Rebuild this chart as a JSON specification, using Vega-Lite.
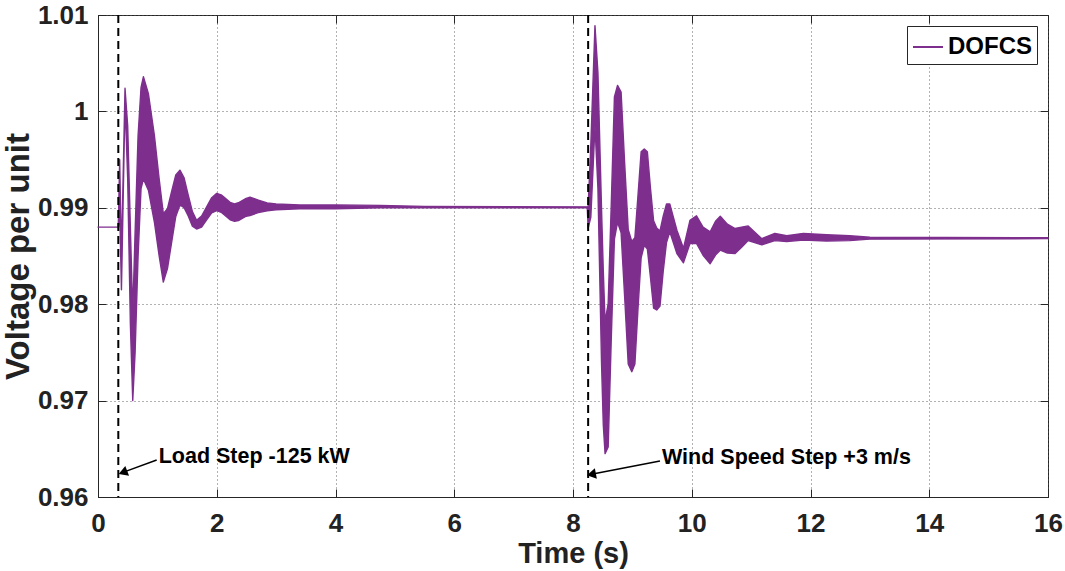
{
  "$schema": "https://vega.github.io/schema/vega-lite/v6.json",
  "width": 950,
  "height": 482,
  "autosize": "none",
  "padding": {"left": 98, "top": 15, "right": 17, "bottom": 74},
  "background": "white",
  "config": {
    "view": {"stroke": "#262626", "strokeWidth": 1},
    "font": "Liberation Sans",
    "axis": {
      "labelFont": "Liberation Sans",
      "labelFontWeight": "bold",
      "labelFontSize": 26,
      "labelColor": "#222222",
      "titleFont": "Liberation Sans",
      "titleFontWeight": "bold",
      "titleColor": "#222222",
      "tickSize": -8,
      "tickColor": "#262626",
      "domainColor": "#262626",
      "gridDash": [1, 3],
      "gridColor": "#555555",
      "gridOpacity": 0.9,
      "gridWidth": 1
    },
    "legend": {
      "orient": "top-right",
      "offset": 11,
      "symbolType": "stroke",
      "symbolSize": 900,
      "symbolStrokeWidth": 2,
      "symbolStrokeColor": "#7E2F8E",
      "labelFont": "Liberation Sans",
      "labelFontSize": 24,
      "labelFontWeight": "bold",
      "labelColor": "black",
      "strokeColor": "#262626",
      "fillColor": "white",
      "padding": 5,
      "labelOffset": 4,
      "cornerRadius": 0
    }
  },
  "datasets": {
    "signal": [
      {"t": 0.0, "lo": 0.988, "hi": 0.988, "series": "DOFCS"},
      {"t": 0.34, "lo": 0.988, "hi": 0.988, "series": "DOFCS"},
      {"t": 0.345, "lo": 0.988, "hi": 0.989, "series": "DOFCS"},
      {"t": 0.365, "lo": 0.990, "hi": 0.995, "series": "DOFCS"},
      {"t": 0.395, "lo": 0.9815, "hi": 0.985, "series": "DOFCS"},
      {"t": 0.455, "lo": 1.001, "hi": 1.0024, "series": "DOFCS"},
      {"t": 0.50, "lo": 0.993, "hi": 0.9985, "series": "DOFCS"},
      {"t": 0.545, "lo": 0.978, "hi": 0.988, "series": "DOFCS"},
      {"t": 0.585, "lo": 0.970, "hi": 0.979, "series": "DOFCS"},
      {"t": 0.625, "lo": 0.975, "hi": 0.9875, "series": "DOFCS"},
      {"t": 0.675, "lo": 0.985, "hi": 0.9975, "series": "DOFCS"},
      {"t": 0.725, "lo": 0.992, "hi": 1.0025, "series": "DOFCS"},
      {"t": 0.765, "lo": 0.993, "hi": 1.0036, "series": "DOFCS"},
      {"t": 0.85, "lo": 0.9918, "hi": 1.0018, "series": "DOFCS"},
      {"t": 0.95, "lo": 0.9885, "hi": 0.9975, "series": "DOFCS"},
      {"t": 1.03, "lo": 0.985, "hi": 0.993, "series": "DOFCS"},
      {"t": 1.10, "lo": 0.9823, "hi": 0.9894, "series": "DOFCS"},
      {"t": 1.17, "lo": 0.9837, "hi": 0.9899, "series": "DOFCS"},
      {"t": 1.24, "lo": 0.9864, "hi": 0.9917, "series": "DOFCS"},
      {"t": 1.31, "lo": 0.9891, "hi": 0.9934, "series": "DOFCS"},
      {"t": 1.38, "lo": 0.9903, "hi": 0.9939, "series": "DOFCS"},
      {"t": 1.45, "lo": 0.99, "hi": 0.9931, "series": "DOFCS"},
      {"t": 1.52, "lo": 0.98915, "hi": 0.9913, "series": "DOFCS"},
      {"t": 1.59, "lo": 0.9881, "hi": 0.9896, "series": "DOFCS"},
      {"t": 1.66, "lo": 0.9878, "hi": 0.9887, "series": "DOFCS"},
      {"t": 1.745, "lo": 0.988, "hi": 0.98915, "series": "DOFCS"},
      {"t": 1.83, "lo": 0.98875, "hi": 0.9901, "series": "DOFCS"},
      {"t": 1.915, "lo": 0.98947, "hi": 0.99105, "series": "DOFCS"},
      {"t": 2.00, "lo": 0.9897, "hi": 0.9915, "series": "DOFCS"},
      {"t": 2.075, "lo": 0.98954, "hi": 0.99134, "series": "DOFCS"},
      {"t": 2.15, "lo": 0.98915, "hi": 0.99095, "series": "DOFCS"},
      {"t": 2.225, "lo": 0.98876, "hi": 0.99056, "series": "DOFCS"},
      {"t": 2.30, "lo": 0.9886, "hi": 0.9904, "series": "DOFCS"},
      {"t": 2.365, "lo": 0.98868, "hi": 0.99052, "series": "DOFCS"},
      {"t": 2.43, "lo": 0.9889, "hi": 0.99075, "series": "DOFCS"},
      {"t": 2.495, "lo": 0.98913, "hi": 0.99097, "series": "DOFCS"},
      {"t": 2.56, "lo": 0.9892, "hi": 0.9911, "series": "DOFCS"},
      {"t": 2.70, "lo": 0.9895, "hi": 0.9908, "series": "DOFCS"},
      {"t": 2.85, "lo": 0.9897, "hi": 0.9905, "series": "DOFCS"},
      {"t": 3.00, "lo": 0.9898, "hi": 0.9904, "series": "DOFCS"},
      {"t": 3.40, "lo": 0.9899, "hi": 0.9903, "series": "DOFCS"},
      {"t": 4.00, "lo": 0.9899, "hi": 0.9903, "series": "DOFCS"},
      {"t": 4.75, "lo": 0.99, "hi": 0.99025, "series": "DOFCS"},
      {"t": 5.50, "lo": 0.99, "hi": 0.99015, "series": "DOFCS"},
      {"t": 8.24, "lo": 0.99, "hi": 0.9901, "series": "DOFCS"},
      {"t": 8.255, "lo": 0.9879, "hi": 0.9901, "series": "DOFCS"},
      {"t": 8.30, "lo": 0.989, "hi": 0.9965, "series": "DOFCS"},
      {"t": 8.37, "lo": 0.9985, "hi": 1.0089, "series": "DOFCS"},
      {"t": 8.42, "lo": 0.992, "hi": 1.004, "series": "DOFCS"},
      {"t": 8.48, "lo": 0.974, "hi": 0.990, "series": "DOFCS"},
      {"t": 8.51, "lo": 0.9675, "hi": 0.9835, "series": "DOFCS"},
      {"t": 8.54, "lo": 0.9645, "hi": 0.9782, "series": "DOFCS"},
      {"t": 8.5925, "lo": 0.9652, "hi": 0.98007, "series": "DOFCS"},
      {"t": 8.645, "lo": 0.9765, "hi": 0.99046, "series": "DOFCS"},
      {"t": 8.6975, "lo": 0.98675, "hi": 1.0015, "series": "DOFCS"},
      {"t": 8.75, "lo": 0.9885, "hi": 1.0027, "series": "DOFCS"},
      {"t": 8.81, "lo": 0.98742, "hi": 1.002, "series": "DOFCS"},
      {"t": 8.87, "lo": 0.98075, "hi": 0.99461, "series": "DOFCS"},
      {"t": 8.93, "lo": 0.9738, "hi": 0.98775, "series": "DOFCS"},
      {"t": 8.99, "lo": 0.973, "hi": 0.9865, "series": "DOFCS"},
      {"t": 9.0425, "lo": 0.9738, "hi": 0.98691, "series": "DOFCS"},
      {"t": 9.095, "lo": 0.97955, "hi": 0.99131, "series": "DOFCS"},
      {"t": 9.1475, "lo": 0.98481, "hi": 0.9958, "series": "DOFCS"},
      {"t": 9.20, "lo": 0.9861, "hi": 0.9961, "series": "DOFCS"},
      {"t": 9.2525, "lo": 0.98573, "hi": 0.9958, "series": "DOFCS"},
      {"t": 9.305, "lo": 0.98275, "hi": 0.99201, "series": "DOFCS"},
      {"t": 9.3575, "lo": 0.9796, "hi": 0.98865, "series": "DOFCS"},
      {"t": 9.41, "lo": 0.9794, "hi": 0.9879, "series": "DOFCS"},
      {"t": 9.465, "lo": 0.9798, "hi": 0.9876, "series": "DOFCS"},
      {"t": 9.52, "lo": 0.98345, "hi": 0.98915, "series": "DOFCS"},
      {"t": 9.575, "lo": 0.9864, "hi": 0.9904, "series": "DOFCS"},
      {"t": 9.63, "lo": 0.9875, "hi": 0.9904, "series": "DOFCS"},
      {"t": 9.75, "lo": 0.98525, "hi": 0.98767, "series": "DOFCS"},
      {"t": 9.86, "lo": 0.9843, "hi": 0.9858, "series": "DOFCS"},
      {"t": 9.97, "lo": 0.98629, "hi": 0.9887, "series": "DOFCS"},
      {"t": 10.08, "lo": 0.9863, "hi": 0.98917, "series": "DOFCS"},
      {"t": 10.19, "lo": 0.98508, "hi": 0.988, "series": "DOFCS"},
      {"t": 10.31, "lo": 0.9842, "hi": 0.9875, "series": "DOFCS"},
      {"t": 10.40, "lo": 0.9851, "hi": 0.9886, "series": "DOFCS"},
      {"t": 10.48, "lo": 0.9856, "hi": 0.98912, "series": "DOFCS"},
      {"t": 10.60, "lo": 0.9853, "hi": 0.9883, "series": "DOFCS"},
      {"t": 10.73, "lo": 0.98525, "hi": 0.98785, "series": "DOFCS"},
      {"t": 10.84, "lo": 0.9859, "hi": 0.988, "series": "DOFCS"},
      {"t": 10.95, "lo": 0.9866, "hi": 0.98812, "series": "DOFCS"},
      {"t": 11.18, "lo": 0.98615, "hi": 0.9868, "series": "DOFCS"},
      {"t": 11.40, "lo": 0.9866, "hi": 0.98735, "series": "DOFCS"},
      {"t": 11.60, "lo": 0.9865, "hi": 0.9871, "series": "DOFCS"},
      {"t": 11.88, "lo": 0.98665, "hi": 0.98735, "series": "DOFCS"},
      {"t": 12.27, "lo": 0.98655, "hi": 0.9872, "series": "DOFCS"},
      {"t": 12.66, "lo": 0.9866, "hi": 0.9871, "series": "DOFCS"},
      {"t": 13.00, "lo": 0.98675, "hi": 0.98695, "series": "DOFCS"},
      {"t": 16.00, "lo": 0.9868, "hi": 0.9869, "series": "DOFCS"}
    ],
    "events": [
      {"t": 0.342},
      {"t": 8.255}
    ],
    "notes": [
      {"id": "load", "label": "Load Step -125 kW", "t0": 0.988, "v0": 0.96383, "t1": 0.42, "v1": 0.96255},
      {"id": "wind", "label": "Wind Speed Step +3 m/s", "t0": 9.465, "v0": 0.96373, "t1": 8.31, "v1": 0.96235}
    ]
  },
  "resolve": {"axis": {"x": "independent", "y": "independent"}},
  "layer": [
    {
      "data": {"name": "signal"},
      "mark": {"type": "area", "stroke": "#7E2F8E", "strokeWidth": 1.4, "strokeJoin": "round"},
      "encoding": {
        "x": {
          "field": "t", "type": "quantitative",
          "scale": {"domain": [0, 16], "nice": false, "zero": false},
          "axis": {
            "orient": "bottom",
            "values": [0, 2, 4, 6, 8, 10, 12, 14, 16],
            "title": "Time (s)",
            "titleFontSize": 29,
            "titlePadding": 3,
            "labelPadding": 21,
            "grid": true,
            "labelFlush": false
          }
        },
        "y": {
          "field": "lo", "type": "quantitative",
          "scale": {"domain": [0.96, 1.01], "nice": false, "zero": false},
          "axis": {
            "orient": "left",
            "values": [0.96, 0.97, 0.98, 0.99, 1.0, 1.01],
            "labelExpr": "format(datum.value, '~g')",
            "title": "Voltage per unit",
            "titleFontSize": 33,
            "titlePadding": 2,
            "labelPadding": 18,
            "grid": true,
            "labelFlush": false
          }
        },
        "y2": {"field": "hi"},
        "color": {
          "field": "series", "type": "nominal",
          "scale": {"domain": ["DOFCS"], "range": ["#7E2F8E"]},
          "legend": {"title": null}
        }
      }
    },
    {
      "data": {"name": "signal"},
      "mark": {"type": "point", "opacity": 0},
      "encoding": {
        "x": {
          "field": "t", "type": "quantitative",
          "axis": {"orient": "top", "values": [0, 2, 4, 6, 8, 10, 12, 14, 16], "labels": false, "title": null, "grid": false, "domain": false}
        },
        "y": {
          "field": "lo", "type": "quantitative",
          "axis": {"orient": "right", "values": [0.96, 0.97, 0.98, 0.99, 1.0, 1.01], "labels": false, "title": null, "grid": false, "domain": false}
        }
      }
    },
    {
      "data": {"name": "events"},
      "mark": {"type": "rule", "color": "black", "strokeWidth": 2, "strokeDash": [8, 5]},
      "encoding": {
        "x": {"field": "t", "type": "quantitative", "axis": null}
      }
    },
    {
      "data": {"name": "notes"},
      "mark": {"type": "rule", "color": "black", "strokeWidth": 1.5},
      "encoding": {
        "x": {"field": "t0", "type": "quantitative", "axis": null},
        "y": {"field": "v0", "type": "quantitative", "axis": null},
        "x2": {"field": "t1"},
        "y2": {"field": "v1"}
      }
    },
    {
      "data": {"name": "notes"},
      "transform": [{"filter": "datum.id == 'load'"}],
      "mark": {"type": "point", "shape": "triangle-left", "filled": true, "color": "black", "size": 110, "angle": 339, "opacity": 1},
      "encoding": {
        "x": {"field": "t1", "type": "quantitative", "axis": null},
        "y": {"field": "v1", "type": "quantitative", "axis": null}
      }
    },
    {
      "data": {"name": "notes"},
      "transform": [{"filter": "datum.id == 'wind'"}],
      "mark": {"type": "point", "shape": "triangle-left", "filled": true, "color": "black", "size": 110, "angle": 349, "opacity": 1},
      "encoding": {
        "x": {"field": "t1", "type": "quantitative", "axis": null},
        "y": {"field": "v1", "type": "quantitative", "axis": null}
      }
    },
    {
      "data": {"name": "notes"},
      "mark": {"type": "text", "align": "left", "baseline": "middle", "dx": 2, "dy": -3, "font": "Liberation Sans", "fontWeight": "bold", "fontSize": 21.5, "color": "black"},
      "encoding": {
        "x": {"field": "t0", "type": "quantitative", "axis": null},
        "y": {"field": "v0", "type": "quantitative", "axis": null},
        "text": {"field": "label"}
      }
    }
  ]
}
